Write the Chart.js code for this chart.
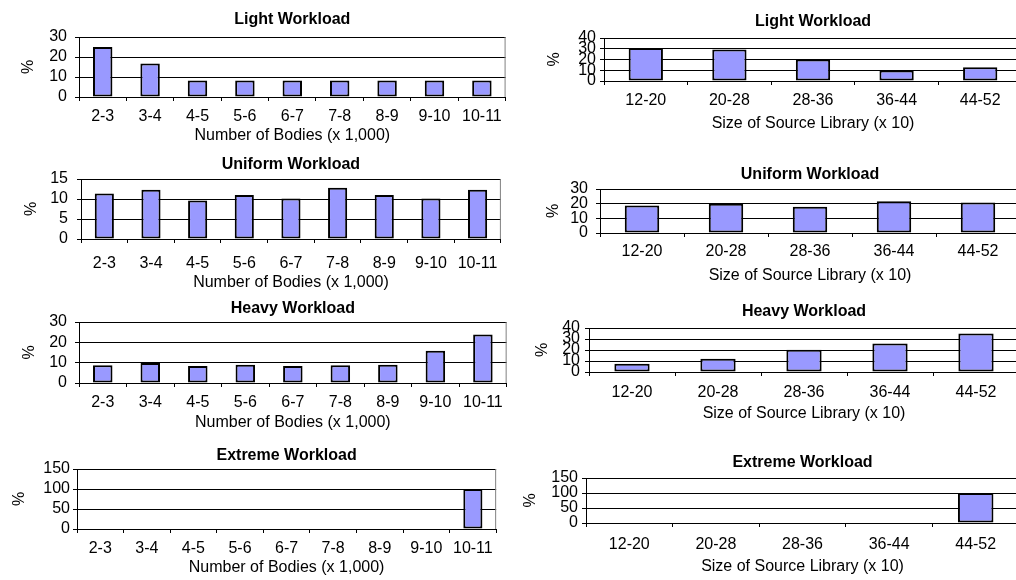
<!DOCTYPE html>
<html>
<head>
<meta charset="utf-8">
<script src="https://cdn.jsdelivr.net/npm/chart.js@4.4.0/dist/chart.umd.min.js"></script>
<style>
    html, body {
        margin: 0;
        padding: 0;
        width: 1016px;
        height: 580px;
        overflow: hidden;
        background: #fff;
    }

    canvas {
        position: absolute;
    }
</style>
</head>
<body>
<div id="charts"></div>
<script>
const workload_titles = ['Light Workload', 'Uniform Workload', 'Heavy Workload', 'Extreme Workload'];

const body_labels = ['2-3', '3-4', '4-5', '5-6', '6-7', '7-8', '8-9', '9-10', '10-11'];
const body_values = [
    [25, 16.7, 8.3, 8.3, 8.3, 8.3, 8.3, 8.3, 8.3],
    [11.4, 12.3, 9.6, 11, 10.1, 12.8, 11, 10.1, 12.3],
    [8.7, 9.8, 8.4, 9, 8.4, 8.7, 9, 15.9, 23.8],
    [0, 0, 0, 0, 0, 0, 0, 0, 100]
];
const body_y_max = [30, 15, 30, 150];
const body_y_step = [10, 5, 10, 50];
const body_x_title = 'Number of Bodies (x 1,000)';

const library_labels = ['12-20', '20-28', '28-36', '36-44', '44-52'];
const library_values = [
    [30.8, 29.2, 20, 9.8, 12.9],
    [18.8, 19.9, 17.9, 21.7, 20.8],
    [7.4, 12, 20.3, 25.8, 35.1],
    [0, 0, 0, 0, 100]
];
const library_y_max = [40, 30, 40, 150];
const library_y_step = [10, 10, 10, 50];
const library_x_title = 'Size of Source Library (x 10)';

// where each panel sits on the page (plot box, title / label rows, "%" column)
const body_layout = [
    {plot: {x: 79, y: 37, w: 429, h: 60}, titleY: 20, labelY: 117, xTitleY: 136, pctX: 29, tickPad: 8},
    {plot: {x: 81, y: 179, w: 428, h: 60}, titleY: 165, labelY: 264, xTitleY: 283, pctX: 32, tickPad: 9},
    {plot: {x: 79, y: 322, w: 430, h: 61}, titleY: 309, labelY: 403, xTitleY: 423, pctX: 30, tickPad: 8},
    {plot: {x: 77, y: 469, w: 422, h: 60}, titleY: 456, labelY: 549, xTitleY: 568, pctX: 20, tickPad: 3},
];
const library_layout = [
    {plot: {x: 604, y: 38, w: 418, h: 43}, titleY: 22, labelY: 101, xTitleY: 124, pctX: 555, tickPad: 4},
    {plot: {x: 600, y: 189, w: 420, h: 44}, titleY: 175, labelY: 252, xTitleY: 276, pctX: 554, tickPad: 8},
    {plot: {x: 589, y: 328, w: 430, h: 44}, titleY: 312, labelY: 393, xTitleY: 414, pctX: 543, tickPad: 5},
    {plot: {x: 586, y: 478, w: 433, h: 45}, titleY: 463, labelY: 545, xTitleY: 567, pctX: 531, tickPad: 4},
];

Chart.defaults.font.family = "'Liberation Sans', Arial, sans-serif";
Chart.defaults.font.size = 16;
Chart.defaults.color = '#000';

const FONT = 16;
const TICK = 4;

const frame_plugin = {
    id: 'frame-right',
    afterDraw: (chart) => {
        const ctx = chart.ctx;
        const {top, right, bottom} = chart.chartArea;
        ctx.save();
        ctx.strokeStyle = '#808080';
        ctx.lineWidth = 1;
        ctx.beginPath();
        ctx.moveTo(right - 0.5, top);
        ctx.lineTo(right - 0.5, bottom);
        ctx.stroke();
        ctx.restore();
    }
}

const make_chart = (title, labels, values, y_max, y_step, x_title, lay) => {
    const canvas = document.createElement('canvas');
    document.getElementById('charts').appendChild(canvas);

    const left = Math.round(lay.pctX - FONT / 2);
    const top = lay.titleY - 10;
    const right = lay.plot.x + lay.plot.w + 2;
    const bottom = lay.xTitleY + 10;
    const plot_bottom = lay.plot.y + lay.plot.h;

    canvas.width = right - left;
    canvas.height = bottom - top;
    canvas.style.left = left + 'px';
    canvas.style.top = top + 'px';

    return new Chart(canvas, {
        type: 'bar',
        data: {
            labels: labels,
            datasets: [{
                data: values,
                backgroundColor: '#9999ff',
                borderColor: '#000',
                borderWidth: 2,
                borderSkipped: false,
                barPercentage: 0.41,
                categoryPercentage: 1,
            }]
        },
        options: {
            responsive: false,
            animation: false,
            devicePixelRatio: 1,
            layout: {
                padding: {left: 0, top: 0, right: 2, bottom: 0}
            },
            plugins: {
                legend: {display: false},
                tooltip: {enabled: false},
                title: {
                    display: true,
                    text: title,
                    fullSize: false,
                    color: '#000',
                    font: {size: FONT, weight: 'bold', lineHeight: 1},
                    padding: {top: lay.titleY - top - FONT / 2, bottom: lay.plot.y - lay.titleY - FONT / 2},
                }
            },
            scales: {
                x: {
                    grid: {
                        offset: true,
                        drawOnChartArea: false,
                        color: '#000',
                        tickLength: TICK,
                    },
                    border: {color: '#000', width: 1},
                    ticks: {
                        maxRotation: 0,
                        autoSkip: false,
                        font: {size: FONT, lineHeight: 1},
                        padding: lay.labelY - plot_bottom - TICK - FONT / 2,
                    },
                    title: {
                        display: true,
                        text: x_title,
                        font: {size: FONT, lineHeight: 1},
                        padding: {top: 0, bottom: 2},
                    },
                    afterFit: (scale) => {
                        scale.height = bottom - plot_bottom;
                    }
                },
                y: {
                    min: 0,
                    max: y_max,
                    grid: {
                        color: '#000',
                        tickLength: TICK,
                    },
                    border: {color: '#000', width: 1},
                    ticks: {
                        stepSize: y_step,
                        autoSkip: false,
                        font: {size: FONT, lineHeight: 1},
                        padding: lay.tickPad,
                    },
                    title: {
                        display: true,
                        text: '%',
                        font: {size: FONT, lineHeight: 1},
                        padding: 0,
                    },
                    afterFit: (scale) => {
                        scale.width = lay.plot.x - left;
                    }
                }
            }
        },
        plugins: [frame_plugin]
    });
}

workload_titles.forEach((title, i) => {
    make_chart(title, body_labels, body_values[i], body_y_max[i], body_y_step[i], body_x_title, body_layout[i]);
    make_chart(title, library_labels, library_values[i], library_y_max[i], library_y_step[i], library_x_title, library_layout[i]);
});
</script>
</body>
</html>
